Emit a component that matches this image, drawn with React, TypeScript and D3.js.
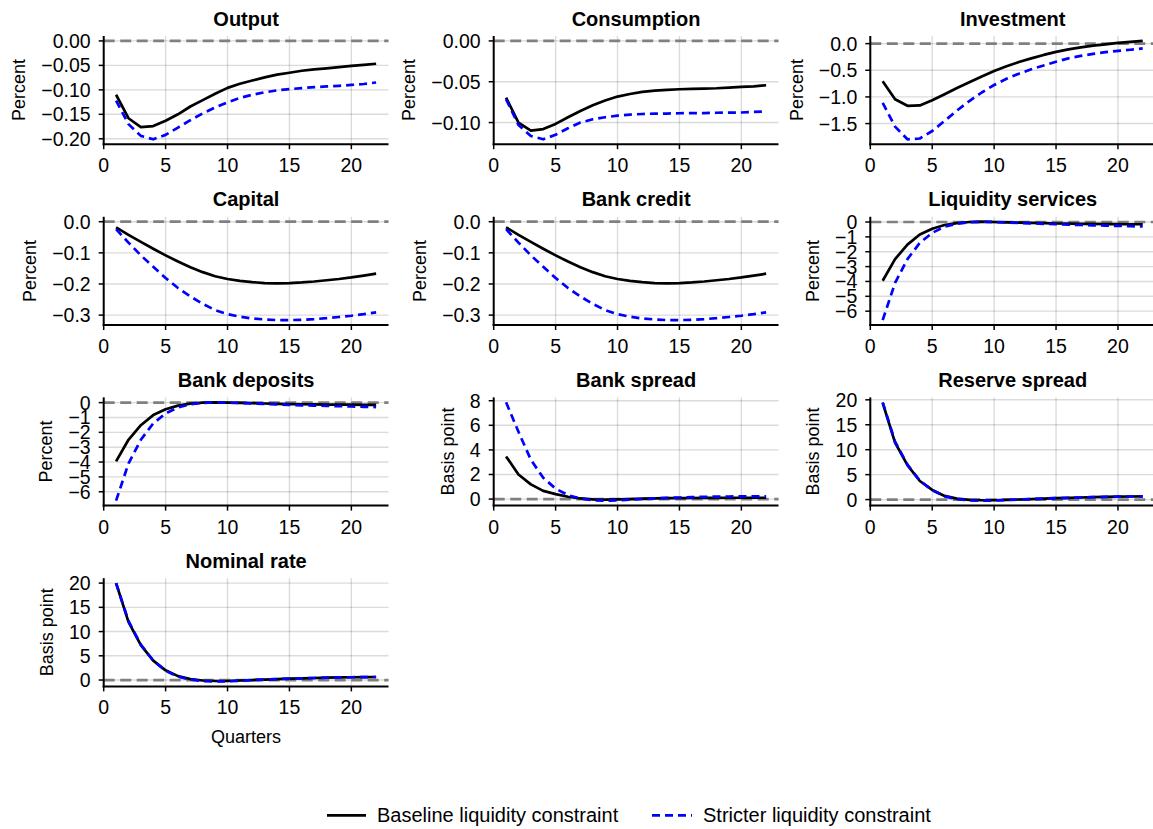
import React from 'react';
import * as d3 from 'd3';

const quarters = [1, 2, 3, 4, 5, 6, 7, 8, 9, 10, 11, 12, 13, 14, 15, 16, 17, 18, 19, 20, 21, 22];
const xTicks = [0, 5, 10, 15, 20];

const outputBase = [-0.110, -0.158, -0.176, -0.174, -0.163, -0.150, -0.134, -0.121, -0.108, -0.096, -0.0875, -0.081, -0.0745, -0.069, -0.065, -0.061, -0.058, -0.056, -0.0536, -0.051, -0.049, -0.0466];
const outputStrict = [-0.122, -0.170, -0.194, -0.201, -0.192, -0.177, -0.162, -0.148, -0.136, -0.1255, -0.1165, -0.110, -0.105, -0.101, -0.0986, -0.0965, -0.0945, -0.093, -0.0917, -0.090, -0.088, -0.085];

const consBase = [-0.0694, -0.100, -0.110, -0.108, -0.1017, -0.0935, -0.0858, -0.0788, -0.0731, -0.0682, -0.065, -0.0625, -0.0609, -0.060, -0.0592, -0.0588, -0.0584, -0.058, -0.0572, -0.0564, -0.0556, -0.0543];
const consStrict = [-0.0715, -0.103, -0.1164, -0.1205, -0.115, -0.107, -0.100, -0.096, -0.0935, -0.0915, -0.0903, -0.0895, -0.0891, -0.089, -0.0886, -0.0885, -0.0884, -0.088, -0.0879, -0.0877, -0.087, -0.0866];

const invBase = [-0.705, -1.045, -1.167, -1.16, -1.064, -0.949, -0.833, -0.724, -0.615, -0.513, -0.423, -0.346, -0.276, -0.212, -0.154, -0.109, -0.071, -0.038, -0.013, 0.013, 0.032, 0.051];
const invStrict = [-1.11, -1.558, -1.795, -1.78, -1.64, -1.45, -1.256, -1.077, -0.917, -0.776, -0.66, -0.564, -0.481, -0.41, -0.34, -0.276, -0.231, -0.192, -0.16, -0.135, -0.115, -0.09];

const capBase = [-0.018, -0.042, -0.065, -0.087, -0.108, -0.128, -0.146, -0.162, -0.175, -0.184, -0.19, -0.194, -0.197, -0.198, -0.197, -0.195, -0.192, -0.188, -0.184, -0.179, -0.173, -0.167];
const capStrict = [-0.024, -0.067, -0.108, -0.145, -0.181, -0.213, -0.240, -0.264, -0.284, -0.297, -0.305, -0.311, -0.314, -0.316, -0.316, -0.315, -0.313, -0.310, -0.306, -0.302, -0.297, -0.291];

const creditBase = [-0.018, -0.042, -0.065, -0.087, -0.108, -0.128, -0.146, -0.162, -0.175, -0.184, -0.19, -0.194, -0.197, -0.198, -0.197, -0.195, -0.192, -0.188, -0.184, -0.179, -0.173, -0.167];
const creditStrict = [-0.024, -0.067, -0.108, -0.145, -0.181, -0.213, -0.240, -0.264, -0.284, -0.297, -0.305, -0.311, -0.314, -0.316, -0.316, -0.315, -0.313, -0.310, -0.306, -0.302, -0.297, -0.291];

const liqBase = [-3.95, -2.5, -1.52, -0.84, -0.45, -0.2, -0.07, 0.0, 0.02, 0.0, -0.02, -0.04, -0.06, -0.08, -0.1, -0.11, -0.12, -0.13, -0.14, -0.14, -0.15, -0.15];
const liqStrict = [-6.6, -4.1, -2.5, -1.4, -0.73, -0.32, -0.11, -0.02, 0.02, 0.0, -0.03, -0.06, -0.09, -0.12, -0.15, -0.18, -0.2, -0.22, -0.24, -0.26, -0.28, -0.3];

const depBase = [-3.95, -2.5, -1.52, -0.84, -0.45, -0.2, -0.07, 0.0, 0.02, 0.0, -0.02, -0.04, -0.06, -0.08, -0.1, -0.11, -0.12, -0.13, -0.14, -0.14, -0.15, -0.15];
const depStrict = [-6.6, -4.1, -2.5, -1.4, -0.73, -0.32, -0.11, -0.02, 0.02, 0.0, -0.03, -0.06, -0.09, -0.12, -0.15, -0.18, -0.2, -0.22, -0.24, -0.26, -0.28, -0.3];

const spreadBase = [3.47, 2.0, 1.2, 0.67, 0.4, 0.19, 0.05, -0.03, -0.04, -0.03, 0.0, 0.03, 0.05, 0.07, 0.08, 0.09, 0.1, 0.1, 0.11, 0.11, 0.11, 0.11];
const spreadStrict = [7.87, 5.47, 3.2, 1.73, 0.85, 0.32, 0.05, -0.1, -0.13, -0.1, -0.05, 0.0, 0.05, 0.1, 0.13, 0.16, 0.18, 0.2, 0.21, 0.22, 0.22, 0.22];

const reserveBase = [19.4, 11.4, 6.9, 3.73, 1.93, 0.73, 0.2, -0.07, -0.13, -0.13, -0.07, 0.02, 0.1, 0.2, 0.28, 0.35, 0.42, 0.48, 0.53, 0.58, 0.62, 0.65];
const reserveStrict = [19.5, 11.6, 7.0, 3.8, 1.9, 0.65, 0.1, -0.18, -0.22, -0.2, -0.1, 0.0, 0.1, 0.2, 0.28, 0.35, 0.42, 0.48, 0.53, 0.58, 0.62, 0.65];

const nominalBase = [20.0, 12.0, 7.2, 4.0, 2.0, 0.8, 0.2, -0.1, -0.2, -0.2, -0.1, 0.0, 0.1, 0.2, 0.28, 0.35, 0.42, 0.48, 0.53, 0.57, 0.6, 0.63];
const nominalStrict = [20.0, 12.2, 7.3, 4.0, 1.9, 0.7, 0.1, -0.2, -0.3, -0.25, -0.15, 0.0, 0.1, 0.2, 0.28, 0.35, 0.42, 0.48, 0.53, 0.57, 0.6, 0.63];

const titles = ['Output', 'Consumption', 'Investment', 'Capital', 'Bank credit', 'Liquidity services', 'Bank deposits', 'Bank spread', 'Reserve spread', 'Nominal rate'];
const yLabels = ['Percent', 'Percent', 'Percent', 'Percent', 'Percent', 'Percent', 'Percent', 'Basis point', 'Basis point', 'Basis point'];
const baseSeries = [outputBase, consBase, invBase, capBase, creditBase, liqBase, depBase, spreadBase, reserveBase, nominalBase];
const strictSeries = [outputStrict, consStrict, invStrict, capStrict, creditStrict, liqStrict, depStrict, spreadStrict, reserveStrict, nominalStrict];
const yTickSets = [
  [0, -0.05, -0.1, -0.15, -0.2],
  [0, -0.05, -0.1],
  [0, -0.5, -1.0, -1.5],
  [0, -0.1, -0.2, -0.3],
  [0, -0.1, -0.2, -0.3],
  [0, -1, -2, -3, -4, -5, -6],
  [0, -1, -2, -3, -4, -5, -6],
  [0, 2, 4, 6, 8],
  [0, 5, 10, 15, 20],
  [0, 5, 10, 15, 20],
];
const yDecimals = [2, 2, 1, 1, 1, 0, 0, 0, 0, 0];
const legendLabels = ['Baseline liquidity constraint', 'Stricter liquidity constraint'];

const FONT = "'Liberation Sans', Arial, Helvetica, sans-serif";
const colLeft = [103.7, 493.7, 870.3];
const rowTop = [36, 216.8, 397.4, 578.2];
const axW = 284.8;
const axH = 108.2;
const tickFs = 19.5;
const LW = 2.7;

const charW: Record<string, number> = { '.': 0.278, '\u2212': 0.584, '-': 0.584 };
function textW(s: string, fs: number) {
  let w = 0;
  for (const c of s) w += charW[c] ?? 0.556;
  return w * fs;
}
function fmt(v: number, d: number) {
  const s = Math.abs(v).toFixed(d);
  return (v < 0 && Math.abs(v) > 1e-12 ? '\u2212' : '') + s;
}

function Panel({ idx }: { idx: number }) {
  const row = Math.floor(idx / 3);
  const col = idx % 3;
  const left = colLeft[col];
  const top = rowTop[row];
  const base = baseSeries[idx];
  const strict = strictSeries[idx];
  const all = [...base, ...strict, 0];
  const lo = d3.min(all)!;
  const hi = d3.max(all)!;
  const pad = (hi - lo) * 0.05;
  const x = d3.scaleLinear().domain([0, 23]).range([left, left + axW]);
  const y = d3.scaleLinear().domain([lo - pad, hi + pad]).range([top + axH, top]);
  const line = d3.line<number>().x((_, i) => x(quarters[i])).y((d) => y(d));
  const yt = yTickSets[idx];
  const labels = yt.map((v) => fmt(v, yDecimals[idx]));
  const maxW = d3.max(labels, (l) => textW(l, tickFs))!;
  const ylx = left - maxW - 35.7;
  const ylcy = top + axH / 2;
  const bottom = top + axH;
  return (
    <g>
      {xTicks.map((t) => (
        <line key={'gx' + t} x1={x(t)} x2={x(t)} y1={top} y2={bottom} stroke="#000" strokeOpacity={0.14} strokeWidth={1.4} />
      ))}
      {yt.map((t) => (
        <line key={'gy' + t} x1={left} x2={left + axW} y1={y(t)} y2={y(t)} stroke="#000" strokeOpacity={0.14} strokeWidth={1.4} />
      ))}
      <line x1={left} x2={left + axW} y1={y(0)} y2={y(0)} stroke="#808080" strokeWidth={2.7} strokeDasharray="11,5.5" />
      <path d={line(base)!} fill="none" stroke="#000" strokeWidth={LW} strokeLinejoin="round" />
      <path d={line(strict)!} fill="none" stroke="#0000ff" strokeWidth={LW} strokeDasharray="8,5" strokeLinejoin="round" />
      <line x1={left} x2={left} y1={top} y2={bottom + 1} stroke="#000" strokeWidth={2} />
      <line x1={left - 1} x2={left + axW} y1={bottom} y2={bottom} stroke="#000" strokeWidth={2} />
      {yt.map((t, i) => (
        <g key={'yt' + t}>
          <line x1={left - 5} x2={left} y1={y(t)} y2={y(t)} stroke="#000" strokeWidth={1.5} />
          <text x={left - 13} y={y(t) + 7} textAnchor="end" fontSize={tickFs} fontFamily={FONT} fill="#000">
            {labels[i]}
          </text>
        </g>
      ))}
      {xTicks.map((t) => (
        <g key={'xt' + t}>
          <line x1={x(t)} x2={x(t)} y1={bottom} y2={bottom + 5} stroke="#000" strokeWidth={1.5} />
          <text x={x(t)} y={bottom + 28} textAnchor="middle" fontSize={tickFs} fontFamily={FONT} fill="#000">
            {String(t)}
          </text>
        </g>
      ))}
      <text x={left + axW / 2} y={top - 10.5} textAnchor="middle" fontSize={20} fontWeight="bold" fontFamily={FONT} fill="#000">
        {titles[idx]}
      </text>
      <text
        transform={`translate(${ylx + 6.5},${ylcy}) rotate(-90)`}
        textAnchor="middle"
        fontSize={18}
        fontFamily={FONT}
        fill="#000"
      >
        {yLabels[idx]}
      </text>
      {row === 3 && (
        <text x={left + axW / 2} y={bottom + 57} textAnchor="middle" fontSize={18} fontFamily={FONT} fill="#000">
          Quarters
        </text>
      )}
    </g>
  );
}

export default function App() {
  return (
    <>
      <style>{`body{margin:0;}`}</style>
      <svg width={1153} height={829} style={{ display: 'block', background: '#fff' }}>
        <rect x={0} y={0} width={1153} height={829} fill="#fff" />
        {titles.map((_, i) => (
          <Panel key={i} idx={i} />
        ))}
        <line x1={327} x2={366} y1={815.3} y2={815.3} stroke="#000" strokeWidth={LW} />
        <text x={377} y={822} fontSize={20} fontFamily={FONT} fill="#000">
          {legendLabels[0]}
        </text>
        <line x1={652} x2={692} y1={815.3} y2={815.3} stroke="#0000ff" strokeWidth={LW} strokeDasharray="8,5" />
        <text x={703} y={822} fontSize={20} fontFamily={FONT} fill="#000">
          {legendLabels[1]}
        </text>
      </svg>
    </>
  );
}
